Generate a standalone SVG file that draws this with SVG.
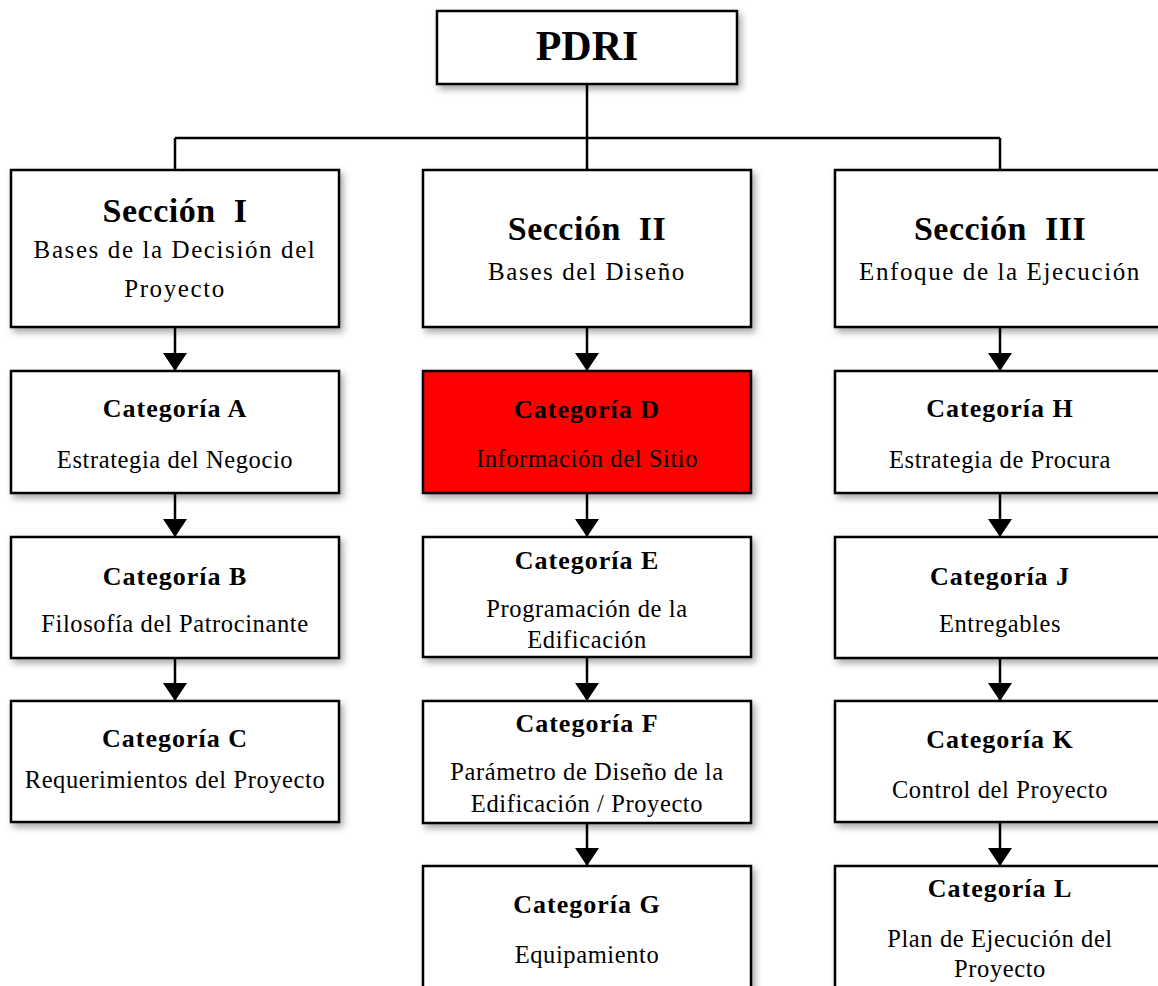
<svg xmlns="http://www.w3.org/2000/svg" width="1158" height="986" viewBox="0 0 1158 986">
<style>
.box{fill:#fff;stroke:#000;stroke-width:2.5;filter:url(#sh)}
.red{fill:#ff0000}
.t{font-family:"Liberation Serif","Times New Roman",serif;text-anchor:middle;fill:#000}
.pd{font-size:42px;font-weight:bold}
.sec{font-size:34px;font-weight:bold;letter-spacing:0.5px}
.sub{font-size:25px;letter-spacing:1.6px}
.cat{font-size:26px;font-weight:bold;letter-spacing:1px}
.des{font-size:24.5px;letter-spacing:0.6px}
.ln{fill:none;stroke:#000;stroke-width:2.5}
</style>
<defs>
<filter id="sh" x="-10%" y="-10%" width="130%" height="140%">
<feDropShadow dx="3" dy="4" stdDeviation="3.5" flood-color="#000" flood-opacity="0.35"/>
</filter>
<marker id="ah" markerUnits="userSpaceOnUse" markerWidth="18" markerHeight="24" viewBox="0 0 18 24" refX="18" refY="12" orient="auto">
<path d="M0,0 L18,12 L0,24 Z" fill="#000"/>
</marker>
</defs>

<g id="connectors">
<path class="ln" d="M587,84 V138 M175,138 H1000 M175,138 V170 M587,138 V170 M1000,138 V170"/>
<line class="ln" x1="175" y1="327" x2="175" y2="371" marker-end="url(#ah)"/>
<line class="ln" x1="175" y1="493" x2="175" y2="537" marker-end="url(#ah)"/>
<line class="ln" x1="175" y1="658" x2="175" y2="701" marker-end="url(#ah)"/>
<line class="ln" x1="587" y1="327" x2="587" y2="371" marker-end="url(#ah)"/>
<line class="ln" x1="587" y1="493" x2="587" y2="537" marker-end="url(#ah)"/>
<line class="ln" x1="587" y1="657" x2="587" y2="701" marker-end="url(#ah)"/>
<line class="ln" x1="587" y1="823" x2="587" y2="866" marker-end="url(#ah)"/>
<line class="ln" x1="1000" y1="327" x2="1000" y2="371" marker-end="url(#ah)"/>
<line class="ln" x1="1000" y1="493" x2="1000" y2="537" marker-end="url(#ah)"/>
<line class="ln" x1="1000" y1="658" x2="1000" y2="701" marker-end="url(#ah)"/>
<line class="ln" x1="1000" y1="822" x2="1000" y2="866" marker-end="url(#ah)"/>
</g>

<g id="pdri">
<rect class="box" x="437" y="11" width="300" height="73"/>
<text class="t pd" x="587" y="60">PDRI</text>
</g>

<g id="sec1">
<rect class="box" x="11" y="170" width="328" height="157"/>
<text class="t sec" x="175" y="222" xml:space="preserve">Sección  I</text>
<text class="t sub" x="175" y="258">Bases de la Decisión del</text>
<text class="t sub" x="175" y="297">Proyecto</text>
</g>
<g id="sec2">
<rect class="box" x="423" y="170" width="328" height="157"/>
<text class="t sec" x="587" y="240" xml:space="preserve">Sección  II</text>
<text class="t sub" x="587" y="280">Bases del Diseño</text>
</g>
<g id="sec3">
<rect class="box" x="835" y="170" width="328" height="157"/>
<text class="t sec" x="1000" y="240" xml:space="preserve">Sección  III</text>
<text class="t sub" x="1000" y="280">Enfoque de la Ejecución</text>
</g>

<g id="catA">
<rect class="box" x="11" y="371" width="328" height="122"/>
<text class="t cat" x="175" y="417">Categoría A</text>
<text class="t des" x="175" y="468">Estrategia del Negocio</text>
</g>
<g id="catB">
<rect class="box" x="11" y="537" width="328" height="121"/>
<text class="t cat" x="175" y="585">Categoría B</text>
<text class="t des" x="175" y="632">Filosofía del Patrocinante</text>
</g>
<g id="catC">
<rect class="box" x="11" y="701" width="328" height="121"/>
<text class="t cat" x="175" y="747">Categoría C</text>
<text class="t des" x="175" y="788">Requerimientos del Proyecto</text>
</g>

<g id="catD">
<rect class="box red" x="423" y="371" width="328" height="122"/>
<text class="t cat" x="587" y="418">Categoría D</text>
<text class="t des" x="587" y="467">Información del Sitio</text>
</g>
<g id="catE">
<rect class="box" x="423" y="537" width="328" height="120"/>
<text class="t cat" x="587" y="569">Categoría E</text>
<text class="t des" x="587" y="617">Programación de la</text>
<text class="t des" x="587" y="648">Edificación</text>
</g>
<g id="catF">
<rect class="box" x="423" y="701" width="328" height="122"/>
<text class="t cat" x="587" y="732">Categoría F</text>
<text class="t des" x="587" y="780">Parámetro de Diseño de la</text>
<text class="t des" x="587" y="812">Edificación / Proyecto</text>
</g>
<g id="catG">
<rect class="box" x="423" y="866" width="328" height="130"/>
<text class="t cat" x="587" y="913">Categoría G</text>
<text class="t des" x="587" y="963">Equipamiento</text>
</g>

<g id="catH">
<rect class="box" x="835" y="371" width="328" height="122"/>
<text class="t cat" x="1000" y="417">Categoría H</text>
<text class="t des" x="1000" y="468">Estrategia de Procura</text>
</g>
<g id="catJ">
<rect class="box" x="835" y="537" width="328" height="121"/>
<text class="t cat" x="1000" y="585">Categoría J</text>
<text class="t des" x="1000" y="632">Entregables</text>
</g>
<g id="catK">
<rect class="box" x="835" y="701" width="328" height="121"/>
<text class="t cat" x="1000" y="748">Categoría K</text>
<text class="t des" x="1000" y="798">Control del Proyecto</text>
</g>
<g id="catL">
<rect class="box" x="835" y="866" width="328" height="130"/>
<text class="t cat" x="1000" y="897">Categoría L</text>
<text class="t des" x="1000" y="947">Plan de Ejecución del</text>
<text class="t des" x="1000" y="977">Proyecto</text>
</g>
</svg>
